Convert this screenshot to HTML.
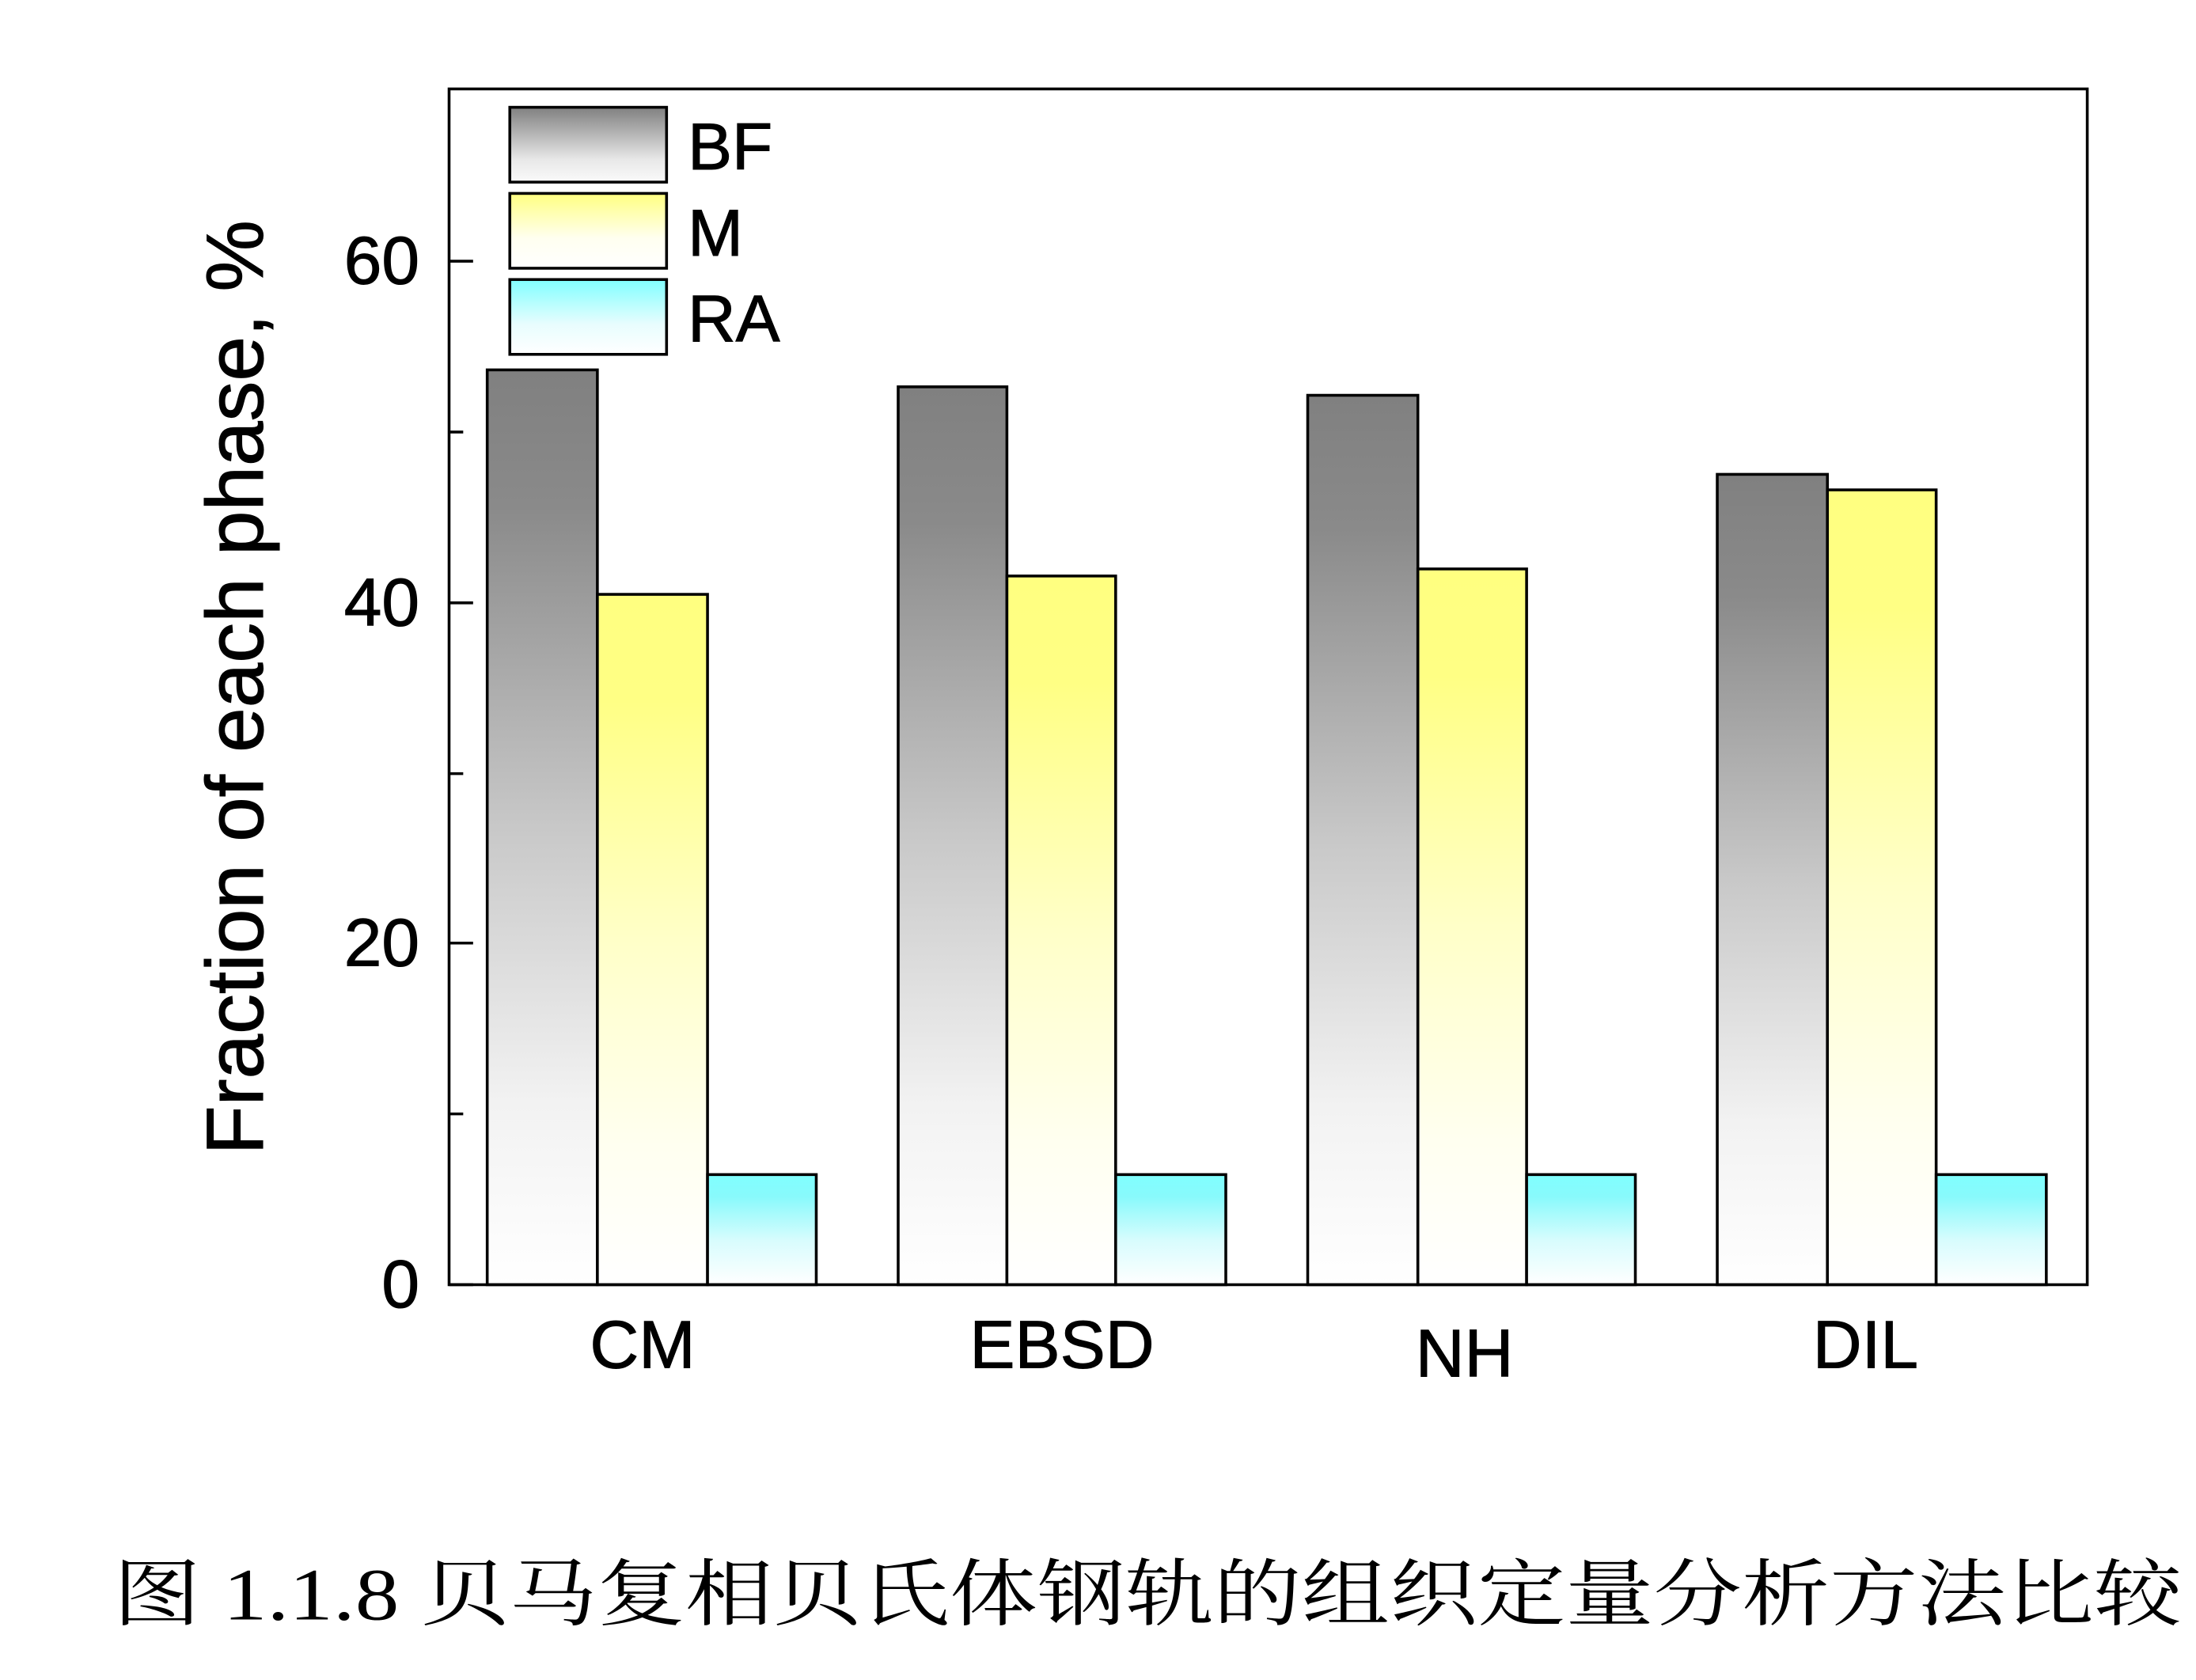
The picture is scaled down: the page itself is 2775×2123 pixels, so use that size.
<!DOCTYPE html>
<html><head><meta charset="utf-8"><style>html,body{margin:0;padding:0;background:#fff}svg{display:block}</style></head>
<body>
<svg width="2775" height="2123" viewBox="0 0 1555 1190" preserveAspectRatio="none" xmlns="http://www.w3.org/2000/svg">
<defs>
<linearGradient id="bf" x1="0" y1="0" x2="0" y2="1"><stop offset="0" stop-color="#808080"/><stop offset="0.15" stop-color="#8a8a8a"/><stop offset="0.5" stop-color="#c8c8c8"/><stop offset="0.8" stop-color="#f2f2f2"/><stop offset="1" stop-color="#ffffff"/></linearGradient>
<linearGradient id="m" x1="0" y1="0" x2="0" y2="1"><stop offset="0" stop-color="#ffff80"/><stop offset="0.15" stop-color="#ffff84"/><stop offset="0.5" stop-color="#ffffc8"/><stop offset="0.8" stop-color="#fffff0"/><stop offset="1" stop-color="#ffffff"/></linearGradient>
<linearGradient id="ra" x1="0" y1="0" x2="0" y2="1"><stop offset="0" stop-color="#80ffff"/><stop offset="0.2" stop-color="#88fafc"/><stop offset="0.6" stop-color="#d8fcfd"/><stop offset="1" stop-color="#ffffff"/></linearGradient>
<linearGradient id="lbf" x1="0" y1="0" x2="0" y2="1"><stop offset="0" stop-color="#808080"/><stop offset="0.7" stop-color="#e8e8e8"/><stop offset="1" stop-color="#fafafa"/></linearGradient>
<linearGradient id="lm" x1="0" y1="0" x2="0" y2="1"><stop offset="0" stop-color="#ffff80"/><stop offset="0.6" stop-color="#fffff0"/><stop offset="1" stop-color="#fff"/></linearGradient>
<linearGradient id="lra" x1="0" y1="0" x2="0" y2="1"><stop offset="0" stop-color="#80ffff"/><stop offset="0.6" stop-color="#e8fdfe"/><stop offset="1" stop-color="#fff"/></linearGradient>
</defs>
<g stroke="#000" stroke-width="2">
<rect x="345" y="262" width="78" height="648" fill="url(#bf)"/>
<rect x="423" y="421" width="78" height="489" fill="url(#m)"/>
<rect x="501" y="832" width="77" height="78" fill="url(#ra)"/>
<rect x="636" y="274" width="77" height="636" fill="url(#bf)"/>
<rect x="713" y="408" width="77" height="502" fill="url(#m)"/>
<rect x="790" y="832" width="78" height="78" fill="url(#ra)"/>
<rect x="926" y="280" width="78" height="630" fill="url(#bf)"/>
<rect x="1004" y="403" width="77" height="507" fill="url(#m)"/>
<rect x="1081" y="832" width="77" height="78" fill="url(#ra)"/>
<rect x="1216" y="336" width="78" height="574" fill="url(#bf)"/>
<rect x="1294" y="347" width="77" height="563" fill="url(#m)"/>
<rect x="1371" y="832" width="78" height="78" fill="url(#ra)"/>
<rect x="361" y="76" width="111" height="53" fill="url(#lbf)"/>
<rect x="361" y="137" width="111" height="53" fill="url(#lm)"/>
<rect x="361" y="198" width="111" height="53" fill="url(#lra)"/>
<rect x="318" y="63" width="1160" height="847" fill="none"/>
<path d="M318 910h17M318 668h17M318 427h17M318 185h17M318 789h10M318 548h10M318 306h10" fill="none"/>
</g>
<g font-family="Liberation Sans, Arial, sans-serif" fill="#000" stroke="#000" stroke-width="0.6">
<g font-size="48" text-anchor="end"><text x="297" y="926">0</text><text x="297" y="684">20</text><text x="297" y="443">40</text><text x="297" y="201">60</text></g>
<g font-size="47"><text x="487" y="120">BF</text><text x="487" y="181">M</text><text x="487" y="242">RA</text></g>
<g font-size="48" text-anchor="middle"><text x="455" y="969">CM</text><text x="752" y="969">EBSD</text><text x="1037" y="975">NH</text><text x="1321" y="969">DIL</text></g>
<text transform="translate(186,487) rotate(-90)" font-size="57" text-anchor="middle">Fraction of each phase, %</text>
</g>
<text x="80" y="1147" font-family="Liberation Serif, Noto Serif CJK SC, serif" font-size="52" textLength="1465" lengthAdjust="spacingAndGlyphs" fill="#000">图 1.1.8 贝马复相贝氏体钢轨的组织定量分析方法比较</text>
</svg>
</body></html>
